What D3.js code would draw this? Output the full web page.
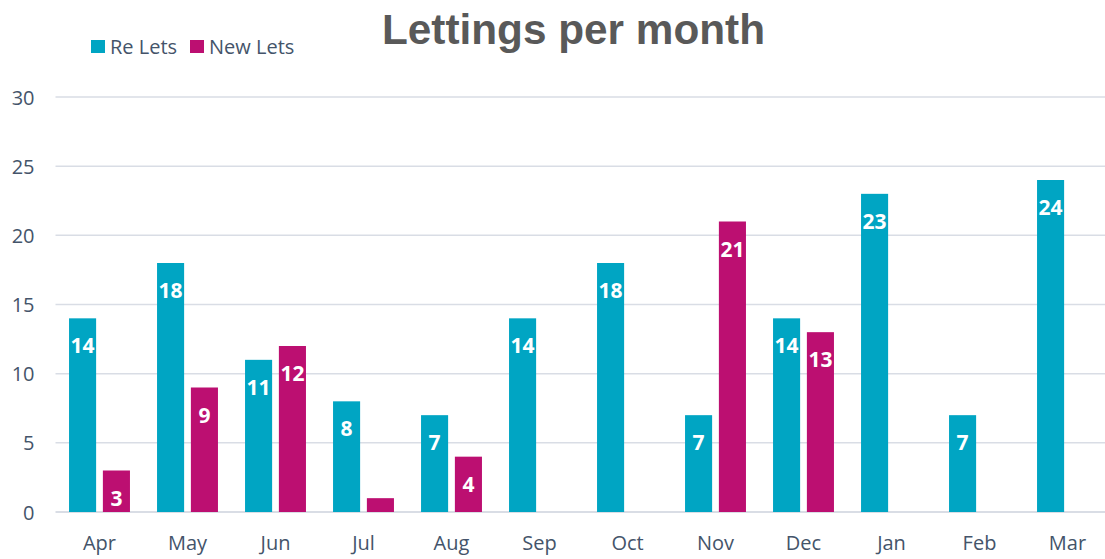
<!DOCTYPE html>
<html>
<head>
<meta charset="utf-8">
<script src="https://cdn.jsdelivr.net/npm/d3@7"></script>
<style>
  body { margin: 0; background: #fff; }
  svg { display: block; }
</style>
</head>
<body>
<div id="chart"></div>
<script>
// datos del grafico
const MONTHS = ["Apr", "May", "Jun", "Jul", "Aug", "Sep", "Oct", "Nov", "Dec", "Jan", "Feb", "Mar"];
const RE_LETS = [14, 18, 11, 8, 7, 14, 18, 7, 14, 23, 7, 24];
const NEW_LETS = [3, 9, 12, 1, 4, 0, 0, 21, 13, 0, 0, 0];
const SERIES = ["Re Lets", "New Lets"];
const Y_TICKS = [0, 5, 10, 15, 20, 25, 30];

const WIDTH = 1105;
const HEIGHT = 559;
const MARGIN = { top: 97, bottom: 47, left: 55.5, right: -6.5 };

const COLORS = d3.scaleOrdinal(SERIES, ["#00A5C3", "#BC0F71"]);

const SVG = d3.select("#chart").append("svg")
  .attr("width", WIDTH)
  .attr("height", HEIGHT);

const x = d3.scaleBand()
  .domain(MONTHS)
  .range([MARGIN.left, WIDTH - MARGIN.right])
  .paddingInner(0)
  .paddingOuter(0);

const xSub = d3.scaleBand()
  .domain(SERIES)
  .range([0, x.bandwidth()])
  .paddingInner(0.2)
  .paddingOuter(0.4);

const y = d3.scaleLinear()
  .domain([0, 30])
  .range([HEIGHT - MARGIN.bottom, MARGIN.top]);

// lineas de grilla
SVG.append("g")
  .selectAll("line")
  .data(Y_TICKS)
  .join("line")
  .attr("x1", MARGIN.left)
  .attr("x2", WIDTH)
  .attr("y1", d => y(d))
  .attr("y2", d => y(d))
  .attr("stroke", "#D9DDE5")
  .attr("stroke-width", d => d === 0 ? 2 : 1.5);

// eje Y
const ejeY = d3.axisLeft(y).tickValues(Y_TICKS).tickSize(0).tickPadding(0);
SVG.append("g")
  .attr("transform", `translate(${MARGIN.left - 21},0)`)
  .call(ejeY)
  .call(g => g.select(".domain").remove())
  .selectAll("text")
  .attr("font-family", "Open Sans")
  .attr("font-size", 20)
  .attr("fill", "#44546A")
  .attr("dy", "0.35em");

// eje X
const ejeX = d3.axisBottom(x).tickSize(0).tickPadding(0);
SVG.append("g")
  .attr("transform", `translate(0,${HEIGHT - MARGIN.bottom + 24})`)
  .call(ejeX)
  .call(g => g.select(".domain").remove())
  .selectAll("text")
  .attr("font-family", "Open Sans")
  .attr("font-size", 20)
  .attr("fill", "#44546A")
  .attr("dy", "0.71em");

const rows = MONTHS.map((m, i) => ({ month: m, values: [
  { key: "Re Lets", value: RE_LETS[i] },
  { key: "New Lets", value: NEW_LETS[i] }
]}));

const grupos = SVG.append("g")
  .selectAll("g")
  .data(rows)
  .join("g")
  .attr("transform", d => `translate(${x(d.month)},0)`);

grupos.selectAll("rect")
  .data(d => d.values.filter(v => v.value > 0))
  .join("rect")
  .attr("x", d => xSub(d.key))
  .attr("width", xSub.bandwidth())
  .attr("y", d => y(d.value))
  .attr("height", d => y(0) - y(d.value))
  .attr("fill", d => COLORS(d.key));

// etiquetas de valores
grupos.selectAll("text")
  .data(d => d.values.filter(v => v.value > 1))
  .join("text")
  .attr("x", d => xSub(d.key) + xSub.bandwidth() / 2)
  .attr("y", d => y(d.value) + 35)
  .attr("text-anchor", "middle")
  .attr("font-family", "Open Sans")
  .attr("font-weight", "bold")
  .attr("font-size", 21)
  .attr("fill", "#fff")
  .text(d => d.value);

// titulo
SVG.append("text")
  .attr("x", 573.5)
  .attr("y", 44)
  .attr("text-anchor", "middle")
  .attr("font-family", "Liberation Sans, Arial")
  .attr("font-weight", "bold")
  .attr("font-size", 42.3)
  .attr("fill", "#595959")
  .text("Lettings per month");

// leyenda
const leyenda = SVG.append("g");
const legendX = [91, 190];
SERIES.forEach((s, i) => {
  leyenda.append("rect")
    .attr("x", legendX[i])
    .attr("y", 40)
    .attr("width", 14)
    .attr("height", 13)
    .attr("fill", COLORS(s));
  leyenda.append("text")
    .attr("x", legendX[i] + 19)
    .attr("y", 53.5)
    .attr("font-family", "Open Sans")
    .attr("font-size", 20)
    .attr("fill", "#44546A")
    .text(s);
});
</script>
</body>
</html>
